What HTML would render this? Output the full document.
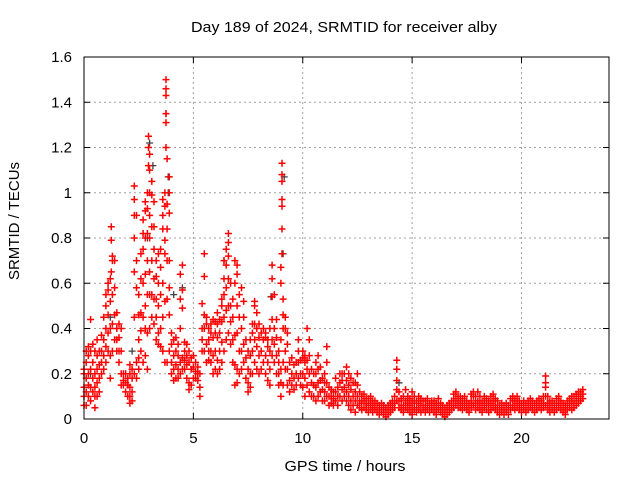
<!DOCTYPE html>
<html><head><meta charset="utf-8"><style>
body{margin:0;background:#fff;}
svg{display:block;font-family:"Liberation Sans",sans-serif;}
</style></head><body>
<svg id="chart" width="640" height="480" viewBox="0 0 640 480">
<rect width="640" height="480" fill="#fff"/>
<text x="344" y="32" text-anchor="middle" font-size="15" textLength="306" lengthAdjust="spacingAndGlyphs">Day 189 of 2024, SRMTID for receiver alby</text>
<g id="grid"></g>
<g id="ticks"></g>
<g id="marks"></g>
<rect x="84" y="57" width="525" height="362" fill="none" stroke="#000" stroke-width="1"/>
<text x="345" y="471" text-anchor="middle" font-size="15" textLength="121" lengthAdjust="spacingAndGlyphs">GPS time / hours</text>
<text x="19" y="221" text-anchor="middle" font-size="15" transform="rotate(-90 19 221)">SRMTID / TECUs</text>
</svg>
<script>
const xTicks=[0,5,10,15,20];
const yTicks=[0,0.2,0.4,0.6,0.8,1,1.2,1.4,1.6];
const yTickLabels=["0","0.2","0.4","0.6","0.8","1","1.2","1.4","1.6"];
const times=[0,0.1,0.2,0.3,0.4,0.5,0.6,0.7,0.8,0.9,1.0,1.1,1.2,1.25,1.3,1.4,1.5,1.6,1.7,1.8,1.9,2.0,2.1,2.2,2.3,2.4,2.5,2.6,2.7,2.8,2.9,2.95,3.0,3.1,3.2,3.3,3.4,3.5,3.6,3.7,3.75,3.8,3.9,4.0,4.1,4.2,4.3,4.4,4.5,4.6,4.7,4.8,4.9,5.0,5.1,5.2,5.3,5.4,5.5,5.6,5.7,5.8,5.9,6.0,6.1,6.2,6.3,6.4,6.5,6.6,6.7,6.8,6.9,7.0,7.1,7.2,7.3,7.4,7.5,7.6,7.7,7.8,7.9,8.0,8.1,8.2,8.3,8.4,8.5,8.6,8.7,8.8,8.9,9.0,9.05,9.1,9.2,9.3,9.4,9.5,9.6,9.7,9.8,9.9,10.0,10.1,10.2,10.3,10.4,10.5,10.6,10.7,10.8,10.9,11.0,11.1,11.2,11.3,11.4,11.5,11.6,11.7,11.8,11.9,12.0,12.1,12.2,12.3,12.4,12.5,12.6,12.7,12.8,12.9,13.0,13.1,13.2,13.3,13.4,13.5,13.6,13.7,13.8,13.9,14.0,14.1,14.2,14.3,14.4,14.5,14.6,14.7,14.8,14.9,15.0,15.1,15.2,15.3,15.4,15.5,15.6,15.7,15.8,15.9,16.0,16.1,16.2,16.3,16.4,16.5,16.6,16.7,16.8,16.9,17.0,17.1,17.2,17.3,17.4,17.5,17.6,17.7,17.8,17.9,18.0,18.1,18.2,18.3,18.4,18.5,18.6,18.7,18.8,18.9,19.0,19.1,19.2,19.3,19.4,19.5,19.6,19.7,19.8,19.9,20.0,20.1,20.2,20.3,20.4,20.5,20.6,20.7,20.8,20.9,21.0,21.1,21.2,21.3,21.4,21.5,21.6,21.7,21.8,21.9,22.0,22.1,22.2,22.3,22.4,22.5,22.6,22.7,22.8];
const values=[
[.06,.1,.14,.2,.22],[.06,.12,.18,.25,.3],[.1,.15,.2,.28,.32],[.08,.14,.22,.3,.44],[.12,.18,.25,.33],
[.05,.1,.14,.2,.3],[.1,.16,.22,.28,.35],[.12,.18,.24,.3],[.2,.25,.3,.37],[.22,.28,.35,.45],
[.25,.32,.4,.5,.55],[.3,.38,.46,.57,.6],[.18,.28,.4,.52,.62],[.65,.79,.85],[.3,.42,.55,.7,.72],
[.35,.46,.58,.7],[.3,.35,.4,.47],[.3,.36,.42,.25],[.15,.2,.3,.4],[.15,.17,.2],[.12,.16,.2],
[.1,.15,.18],[.07,.1,.14,.2,.24],[.08,.12,.18,.22],[.2,.45,.65,.8,.9,.97,1.03],[.18,.25,.58,.7,.9],
[.22,.27,.35,.46,.55],[.3,.39,.47,.62,.73],[.25,.45,.6,.75,.82,.88],[.28,.4,.5,.64,.8,.92,.96],
[.22,.38,.55,.7,.82,.93,1.0],[1.12,1.2,1.25],[.4,.55,.65,.8,.9,1.0,1.1,1.17],[.45,.55,.7,.85,.99,1.05],
[.42,.53,.62,.75,.85,.96],[.35,.45,.53,.63,.7],[.33,.38,.5,.6,.73],[.32,.4,.55,.67,.75],
[.3,.45,.6,.84,.9,.97],[.25,.52,.73,.79,.94,1.0],[1.2,1.31,1.35,1.43,1.46,1.5],[.25,.53,.7,.84,.95,1.15],
[.3,.46,.58,.7,.91,1.0,1.07],[.2,.25,.33,.38],[.17,.22,.28,.35],[.18,.24,.3,.36],[.18,.22,.28,.33],
[.2,.25,.4,.53,.64],[.22,.27,.49,.57,.68],[.22,.26,.3,.34],[.18,.24,.28,.33],[.13,.16,.25,.3],
[.15,.22,.27],[.18,.23,.28],[.18,.21,.25],[.17,.2,.23],[.1,.14,.2],[.3,.35,.4,.51],[.3,.4,.46,.63,.73],
[.25,.33,.42,.45],[.26,.3,.35,.4],[.25,.3,.38,.42],[.2,.28,.36,.44],[.22,.3,.38,.43],[.2,.26,.36,.42,.47],
[.22,.3,.38,.44],[.25,.34,.43,.5,.53],[.3,.45,.55,.62,.7],[.35,.48,.58,.68,.75],[.38,.5,.62,.72,.78,.82],
[.33,.43,.5,.6],[.25,.35,.45,.53],[.15,.24,.37,.6,.7],[.16,.22,.38,.5,.64,.68],[.2,.3,.45,.55],
[.22,.3,.4,.58],[.25,.33,.45,.52],[.18,.27,.35],[.12,.16,.22,.3],[.14,.2,.28,.35],[.2,.3,.38,.42],
[.25,.35,.42,.5,.52],[.22,.32,.4,.47],[.2,.28,.36,.42],[.22,.3,.38],[.25,.35,.4],[.2,.28,.36,.38],
[.17,.25,.32,.35],[.15,.22,.3,.4],[.28,.35,.44,.54,.62,.68],[.25,.33,.4,.55],[.2,.28,.36,.44],
[.15,.2,.25,.3],[.1,.16,.22,.35,.6,.67],[.73,.84,.94,.97,1.05,1.08,1.13],[.15,.25,.4,.46,.53],
[.22,.3,.4,.45],[.15,.22,.33,.38],[.12,.17,.25],[.15,.2,.27],[.13,.18,.24],[.15,.2,.25],[.18,.25,.3,.35],
[.15,.2,.26],[.14,.2,.27,.3],[.1,.18,.25,.28],[.15,.22,.26,.4],[.12,.2,.28,.35],[.1,.16,.22],[.1,.15,.2],
[.08,.14,.2,.25],[.1,.16,.22,.28],[.12,.17,.23],[.08,.13,.18],[.08,.12,.16,.2],[.1,.16,.25,.32],
[.06,.1,.14],[.07,.1,.13],[.06,.09,.12],[.08,.12,.18],[.06,.1,.14],[.1,.16,.2],[.08,.13,.17,.2],
[.1,.14,.2],[.08,.12,.17,.23],[.06,.1,.15,.2],[.04,.08,.13,.18],[.06,.1,.16],[.03,.08,.12,.16],
[.06,.1,.15,.2],[.05,.08,.12],[.04,.07,.1],[.05,.08,.11],[.04,.07,.09],[.03,.06,.09],[.04,.07,.1],
[.03,.05,.08],[.04,.06,.08],[.03,.05,.07],[.02,.04,.06],[.03,.05,.07],[.02,.04,.06],[.01,.03,.05],
[.02,.04,.06],[.03,.05,.07],[.04,.06,.08],[.05,.07,.1],[.08,.13,.17,.22,.26],[.05,.08,.12],[.04,.06,.09],
[.03,.06,.1],[.05,.08,.13],[.04,.07,.1],[.03,.06,.09],[.02,.05,.08,.12],[.04,.07,.1],[.03,.05,.08],
[.04,.07,.1],[.03,.06,.09],[.04,.06,.08],[.03,.05,.08],[.04,.06,.09],[.03,.05,.07],[.04,.06,.08],
[.03,.05,.08],[.02,.05,.07],[.04,.06,.09],[.03,.05,.07],[.02,.04,.06],[.01,.03,.05],[.02,.04,.06],
[.03,.05,.07],[.04,.06,.08],[.05,.08,.11],[.06,.09,.12],[.05,.07,.1],[.05,.08,.1],[.04,.06,.09],
[.05,.07,.1],[.04,.06,.08],[.03,.05,.07],[.05,.08,.11],[.06,.1,.12],[.04,.07,.1],[.05,.08,.12],
[.04,.07,.1],[.03,.06,.08],[.05,.07,.1],[.04,.06,.09],[.03,.06,.08],[.04,.07,.1],[.05,.08,.11],
[.04,.06,.09],[.03,.05,.08],[.02,.04,.06],[.03,.05,.07],[.02,.04,.06],[.03,.05,.07],[.02,.04,.06],
[.04,.06,.09],[.05,.08,.1],[.04,.06,.09],[.05,.07,.1],[.04,.06,.08],[.03,.05,.07],[.04,.06,.08],
[.03,.05,.07],[.04,.06,.08],[.05,.07,.09],[.04,.06,.08],[.03,.05,.07],[.04,.06,.08],[.05,.07,.09],
[.04,.06,.08],[.05,.07,.1],[.06,.1,.14,.16,.19],[.04,.07,.1],[.03,.05,.08],[.04,.06,.08],[.03,.05,.07],
[.04,.06,.09],[.05,.07,.1],[.04,.06,.08],[.03,.05,.07],[.02,.04,.06],[.04,.06,.08],[.05,.07,.09],
[.04,.07,.1],[.05,.08,.1],[.06,.08,.11],[.07,.09,.12],[.08,.1,.12],[.09,.11,.13]];
const blackTimes=[0.3,1.2,2.2,2.9,3.0,3.15,3.75,3.85,3.85,4.1,4.5,6.4,8.55,9.1,9.15,14.4];
const blackValues=[0.2,0.45,0.3,0.8,1.22,1.12,1.35,1.07,1.0,0.55,0.58,0.7,0.54,0.73,1.07,0.16];

const X0=84,X1=609,Y0=419,Y1=57;
function xs(t){return X0+(t/24)*(X1-X0);}
function ys(v){return Y0-(v/1.6)*(Y0-Y1);}
const NS="http://www.w3.org/2000/svg";
const grid=document.getElementById('grid'),ticks=document.getElementById('ticks'),marks=document.getElementById('marks');
function mk(tag,attrs,parent){const e=document.createElementNS(NS,tag);for(const k in attrs)e.setAttribute(k,attrs[k]);parent.appendChild(e);return e;}
xTicks.forEach(t=>{
  const x=xs(t);
  if(t>0){const g=mk('line',{x1:x,x2:x,y1:Y1,y2:Y0,stroke:'#a0a0a0','stroke-dasharray':'2,3','stroke-width':1},grid);
  
  }
  mk('line',{x1:x,x2:x,y1:Y0,y2:Y0-6,stroke:'#000'},ticks);
  mk('line',{x1:x,x2:x,y1:Y1,y2:Y1+6,stroke:'#000'},ticks);
  const l=mk('text',{x:x,y:443,'text-anchor':'middle','font-size':15},ticks);l.textContent=String(t);
  
  
});
yTicks.forEach((v,i)=>{
  const y=ys(v);
  if(i>0&&i<yTicks.length-1){const g=mk('line',{x1:X0,x2:X1,y1:y,y2:y,stroke:'#a0a0a0','stroke-dasharray':'2,3','stroke-width':1},grid);
  
  }
  mk('line',{x1:X0,x2:X0+6,y1:y,y2:y,stroke:'#000'},ticks);
  mk('line',{x1:X1,x2:X1-6,y1:y,y2:y,stroke:'#000'},ticks);
  const l=mk('text',{x:72,y:y+5,'text-anchor':'end','font-size':15},ticks);l.textContent=yTickLabels[i];
  
  
});
function cross(x,y){return `M${(x-3.5).toFixed(1)} ${y.toFixed(1)}h7M${x.toFixed(1)} ${(y-3.5).toFixed(1)}v7`;}
let db='';blackTimes.forEach((t,i)=>{db+=cross(xs(t),ys(blackValues[i]));});
const pb=mk('path',{d:db,stroke:'#404040','stroke-width':1.3,fill:'none'},marks);


let dr='';times.forEach((t,i)=>{values[i].forEach(v=>{dr+=cross(xs(t),ys(v));});});
const pr=mk('path',{d:dr,stroke:'#ff0000','stroke-width':1.5,fill:'none'},marks);


</script>
</body></html>
